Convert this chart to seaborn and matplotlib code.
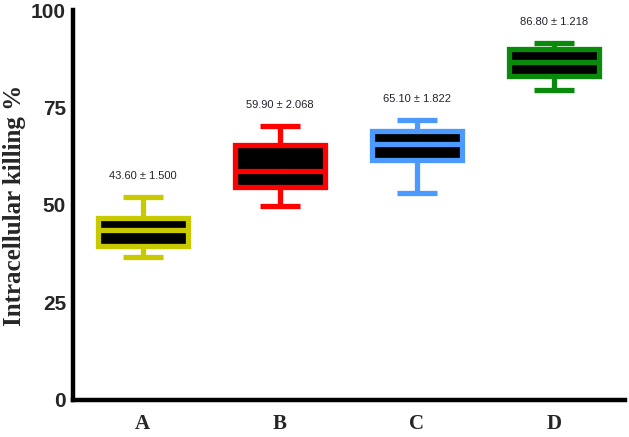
import matplotlib
matplotlib.use("Agg")
import matplotlib.pyplot as plt
import seaborn as sns
import pandas as pd

groups = ["A", "B", "C", "D"]
# lower whisker, Q1, median, Q3, upper whisker
vals_a = [36.7, 39.5, 43.6, 46.7, 52.0]
vals_b = [49.7, 54.6, 58.8, 65.5, 70.3]
vals_c = [53.1, 61.5, 65.6, 69.0, 71.8]
vals_d = [79.5, 83.2, 86.7, 89.9, 91.6]
means = [43.60, 59.90, 65.10, 86.80]
sems = [1.500, 2.068, 1.822, 1.218]
colors = ["#C9C900", "#FF0000", "#4C9AFF", "#0A8A0A"]

df = pd.DataFrame({
    "group": ["A"] * len(vals_a) + ["B"] * len(vals_b) + ["C"] * len(vals_c) + ["D"] * len(vals_d),
    "value": vals_a + vals_b + vals_c + vals_d,
})

sns.set_style("white")
fig = plt.figure(figsize=(6.29, 4.37), dpi=100)
ax = fig.add_axes([0.116, 0.085, 0.878, 0.892])

for g, c in zip(groups, colors):
    sub = df[df["group"] == g]
    sns.boxplot(data=sub, x="group", y="value", order=groups, color="black",
                linecolor=c, linewidth=3.8, width=0.66, saturation=1,
                capwidths=0.29, ax=ax)

for p in ax.patches:
    p.set_joinstyle("miter")
for ln in ax.lines:
    ln.set_solid_capstyle("butt")

# mean ± SEM above each box
for i, g in enumerate(groups):
    top = df.loc[df["group"] == g, "value"].max()
    ax.text(i, top + 5.3, f"{means[i]:.2f} \u00b1 {sems[i]:.3f}", ha="center", va="center",
            fontsize=8, family="Liberation Sans", color="#22222e")

ax.set_xlim(-0.51, 3.52)
ax.set_ylim(0, 100)
ax.set_yticks([0, 25, 50, 75, 100])
ax.set_xlabel("")
ax.set_ylabel("Intracellular killing %", fontsize=18, fontweight="bold",
              family="Liberation Serif")
ax.yaxis.set_label_coords(-0.085, 0.5)

for lab in ax.get_yticklabels():
    lab.set_fontfamily("Liberation Sans")
    lab.set_fontweight("bold")
    lab.set_fontsize(15)
for lab in ax.get_xticklabels():
    lab.set_fontfamily("Liberation Serif")
    lab.set_fontweight("bold")
    lab.set_fontsize(15)

ax.tick_params(axis="both", direction="out", length=3, width=3, color="black")
ax.tick_params(axis="y", pad=2)
ax.tick_params(axis="x", pad=7)

for s in ["top", "right"]:
    ax.spines[s].set_visible(False)
for s in ["left", "bottom"]:
    ax.spines[s].set_linewidth(3.2)
    ax.spines[s].set_color("black")

fig.savefig("out.png", dpi=100)
